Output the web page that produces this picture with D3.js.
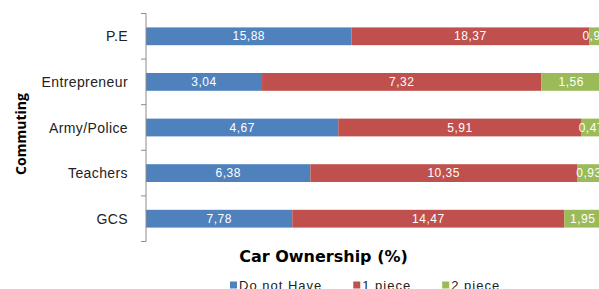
<!DOCTYPE html>
<html>
<head>
<meta charset="utf-8">
<script src="https://cdn.jsdelivr.net/npm/d3@7"></script>
<style>
  body { margin: 0; background: #fff; }
  svg { display: block; }
</style>
</head>
<body>
<div id="plot"></div>
<script>
const w = 599;
const h = 289;

// values (%)
const categories = ["P.E", "Entrepreneur", "Army/Police", "Teachers", "GCS"];
const doNotHave = [15.88, 3.04, 4.67, 6.38, 7.78];
const onePiece = [18.37, 7.32, 5.91, 10.35, 14.47];
const twoPiece = [0.91, 1.56, 0.47, 0.93, 1.95];
const seriesNames = ["Do not Have", "1 piece", "2 piece"];
const seriesColors = ["#4F81BD", "#C0504D", "#9BBB59"];

const rows = categories.map((c, i) => ({
  cat: c,
  "Do not Have": doNotHave[i],
  "1 piece": onePiece[i],
  "2 piece": twoPiece[i]
}));

const stack = d3.stack().
keys(seriesNames).
offset(d3.stackOffsetExpand);
const layers = stack(rows);

const xScale = d3.scaleLinear().
domain([0, 1]).
range([146, 601]);

const yScale = d3.scaleBand().
domain(categories).
range([13.5, 241.5]).
paddingInner(0.61).
paddingOuter(0.305);

const color = d3.scaleOrdinal().
domain(seriesNames).
range(seriesColors);

const fmt = v => v.toFixed(2).replace(".", ",");

const svg = d3.select("#plot").
append("svg").
attr("width", w).
attr("height", h);

// bars
const layer = svg.selectAll(".layer").
data(layers).
enter().
append("g").
attr("class", "layer").
attr("fill", d => color(d.key));

layer.selectAll("rect").
data(d => d.map(p => ({ p: p, key: d.key }))).
enter().
append("rect").
attr("x", d => xScale(d.p[0])).
attr("y", d => yScale(d.p.data.cat)).
attr("width", d => xScale(d.p[1]) - xScale(d.p[0])).
attr("height", yScale.bandwidth());

// data labels (the last ones run past the right edge, as in the original)
layer.selectAll("text").
data(d => d.map(p => ({ p: p, key: d.key }))).
enter().
append("text").
attr("x", d => (xScale(d.p[0]) + xScale(d.p[1])) / 2).
attr("y", d => yScale(d.p.data.cat) + yScale.bandwidth() / 2).
attr("text-anchor", "middle").
attr("dominant-baseline", "central").
attr("fill", "#fff").
style("font-family", "Liberation Sans, Arial, sans-serif").
style("font-size", "12px").
style("letter-spacing", "0.5px").
text(d => fmt(d.p.data[d.key]));

// y axis line and ticks at band edges
const step = yScale.step();
const edges = categories.map(c => yScale(c) - (step - yScale.bandwidth()) / 2);
edges.push(edges[edges.length - 1] + step);

svg.append("line").
attr("x1", 146).
attr("x2", 146).
attr("y1", edges[0]).
attr("y2", edges[edges.length - 1]).
attr("stroke", "#8c8c8c").
attr("stroke-width", 1);

svg.selectAll(".tick").
data(edges).
enter().
append("line").
attr("class", "tick").
attr("x1", 141).
attr("x2", 146).
attr("y1", d => d).
attr("y2", d => d).
attr("stroke", "#8c8c8c").
attr("stroke-width", 1);

svg.selectAll(".cat").
data(categories).
enter().
append("text").
attr("class", "cat").
attr("x", 128).
attr("y", d => yScale(d) + yScale.bandwidth() / 2).
attr("text-anchor", "end").
attr("dominant-baseline", "central").
attr("fill", "#222").
style("font-family", "Liberation Sans, Arial, sans-serif").
style("font-size", "14px").
style("letter-spacing", "0.4px").
text(d => d);

// axis titles
svg.append("text").
attr("transform", "translate(20,134) rotate(-90)").
attr("text-anchor", "middle").
attr("dominant-baseline", "central").
attr("fill", "#000").
style("font-family", "Open Sans, sans-serif").
style("font-weight", "bold").
style("font-size", "14px").
text("Commuting");

svg.append("text").
attr("x", 323.5).
attr("y", 262).
attr("text-anchor", "middle").
attr("fill", "#000").
style("font-family", "DejaVu Sans, sans-serif").
style("font-weight", "bold").
style("font-size", "16px").
text("Car Ownership (%)");

// legend
const legend = svg.append("g").attr("id", "legend");
let lx = 230;
seriesNames.forEach((name, i) => {
  legend.append("rect").
  attr("x", lx).
  attr("y", 281.5).
  attr("width", 7).
  attr("height", 7).
  attr("fill", color(name));
  const t = legend.append("text").
  attr("x", lx + 9).
  attr("y", 285).
  attr("dominant-baseline", "central").
  attr("fill", "#222").
  style("font-family", "Liberation Sans, Arial, sans-serif").
  style("font-size", "13px").
  style("letter-spacing", "1px").
  text(name);
  lx += 9 + t.node().getComputedTextLength() + 31;
});
</script>
</body>
</html>
